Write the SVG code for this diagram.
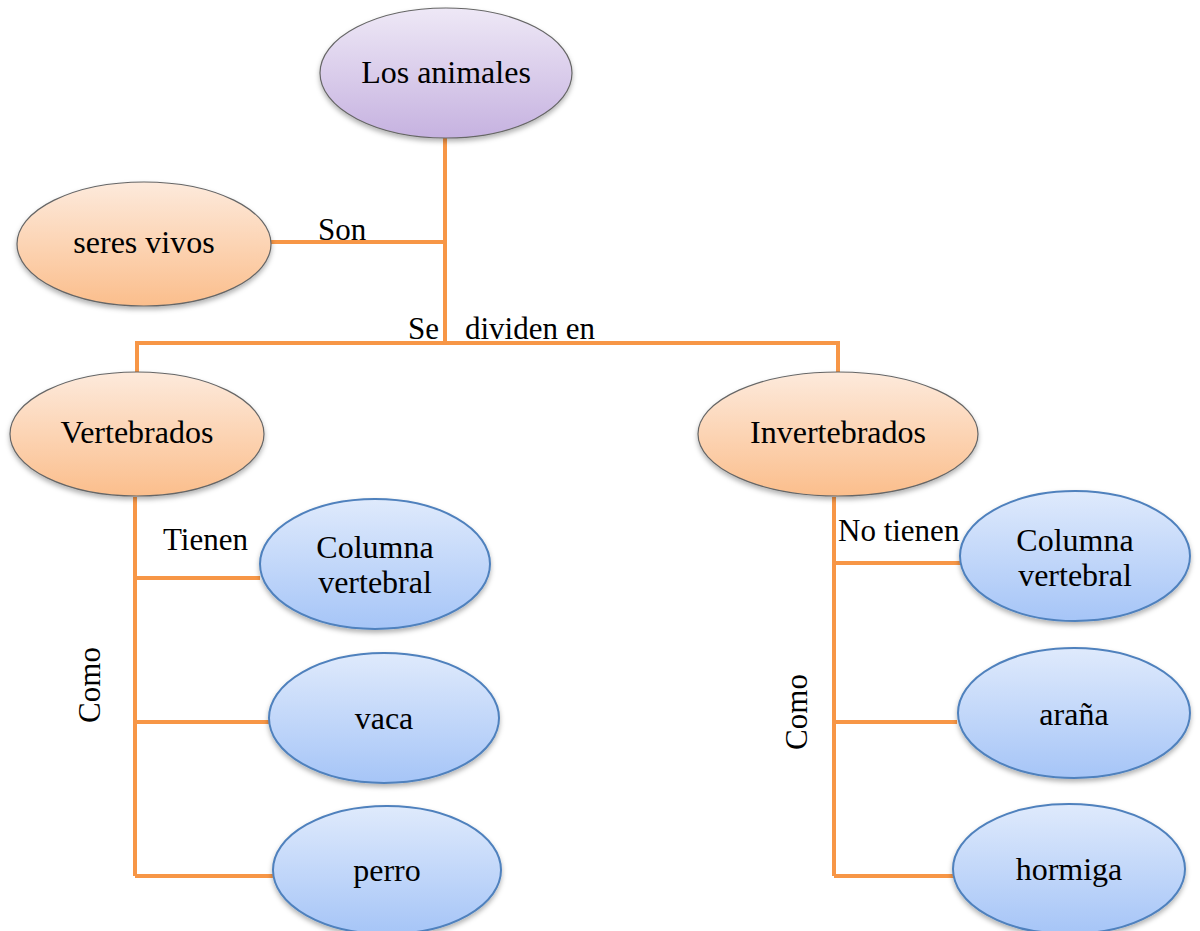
<svg xmlns="http://www.w3.org/2000/svg" width="1200" height="931" viewBox="0 0 1200 931">
<defs>
<linearGradient id="gp" x1="0" y1="0" x2="0" y2="1"><stop offset="0" stop-color="#EEE8F6"/><stop offset="1" stop-color="#C6B2E0"/></linearGradient>
<linearGradient id="go" x1="0" y1="0" x2="0" y2="1"><stop offset="0" stop-color="#FDEADC"/><stop offset="1" stop-color="#FBBE8C"/></linearGradient>
<linearGradient id="gb" x1="0" y1="0" x2="0" y2="1"><stop offset="0" stop-color="#DFEAFC"/><stop offset="1" stop-color="#A6C5F7"/></linearGradient>
<filter id="sh" x="-10%" y="-10%" width="120%" height="130%"><feDropShadow dx="0" dy="3" stdDeviation="2.5" flood-color="#000" flood-opacity="0.3"/></filter>
</defs>
<style>
.c{stroke:#F79646;stroke-width:4;fill:none}
.p{fill:url(#gp);stroke:#666;stroke-width:1.2;filter:url(#sh)}
.o{fill:url(#go);stroke:#666;stroke-width:1.2;filter:url(#sh)}
.b{fill:url(#gb);stroke:#4F81BD;stroke-width:2;filter:url(#sh)}
text{font-family:"Liberation Serif","Times New Roman",serif;font-size:32px;fill:#000}
.n{text-anchor:middle}
.l{font-size:31px}
</style>
<rect width="1200" height="931" fill="#fff"/>
<g id="connectors">
<path class="c" d="M445 138V343M271 242H445M135 343H840M137 343V372M838 343V372"/>
<path class="c" d="M135 497V876M135 578H260M135 722H270M135 876H273"/>
<path class="c" d="M834 497V876M834 563H962M834 722H957M834 876H955"/>
</g>
<g id="labels">
<text class="l" x="318" y="240">Son</text>
<text class="l" x="408" y="339">Se</text>
<text class="l" x="465" y="339">dividen en</text>
<text class="l" x="163" y="550">Tienen</text>
<text class="l" x="838" y="541">No tienen</text>
<text class="l" text-anchor="middle" transform="translate(100 685) rotate(-90)">Como</text>
<text class="l" text-anchor="middle" transform="translate(807 712) rotate(-90)">Como</text>
</g>
<g id="n-animales"><ellipse class="p" cx="446" cy="73" rx="126" ry="65"/><text class="n" x="446" y="83">Los animales</text></g>
<g id="n-seres"><ellipse class="o" cx="144" cy="244" rx="127" ry="62"/><text class="n" x="144" y="253">seres vivos</text></g>
<g id="n-vert"><ellipse class="o" cx="137" cy="434" rx="127" ry="62"/><text class="n" x="137" y="443">Vertebrados</text></g>
<g id="n-invert"><ellipse class="o" cx="838" cy="434" rx="140" ry="62"/><text class="n" x="838" y="443">Invertebrados</text></g>
<g id="n-col1"><ellipse class="b" cx="375" cy="564" rx="115" ry="65"/><text class="n" x="375" y="558">Columna</text><text class="n" x="375" y="593">vertebral</text></g>
<g id="n-vaca"><ellipse class="b" cx="384" cy="718" rx="115" ry="65"/><text class="n" x="384" y="729">vaca</text></g>
<g id="n-perro"><ellipse class="b" cx="387" cy="870" rx="114" ry="64"/><text class="n" x="387" y="881">perro</text></g>
<g id="n-col2"><ellipse class="b" cx="1075" cy="556" rx="115" ry="65"/><text class="n" x="1075" y="551">Columna</text><text class="n" x="1075" y="586">vertebral</text></g>
<g id="n-arana"><ellipse class="b" cx="1074" cy="713" rx="116" ry="65"/><text class="n" x="1074" y="725">araña</text></g>
<g id="n-hormiga"><ellipse class="b" cx="1069" cy="869" rx="116" ry="65"/><text class="n" x="1069" y="880">hormiga</text></g>
</svg>
